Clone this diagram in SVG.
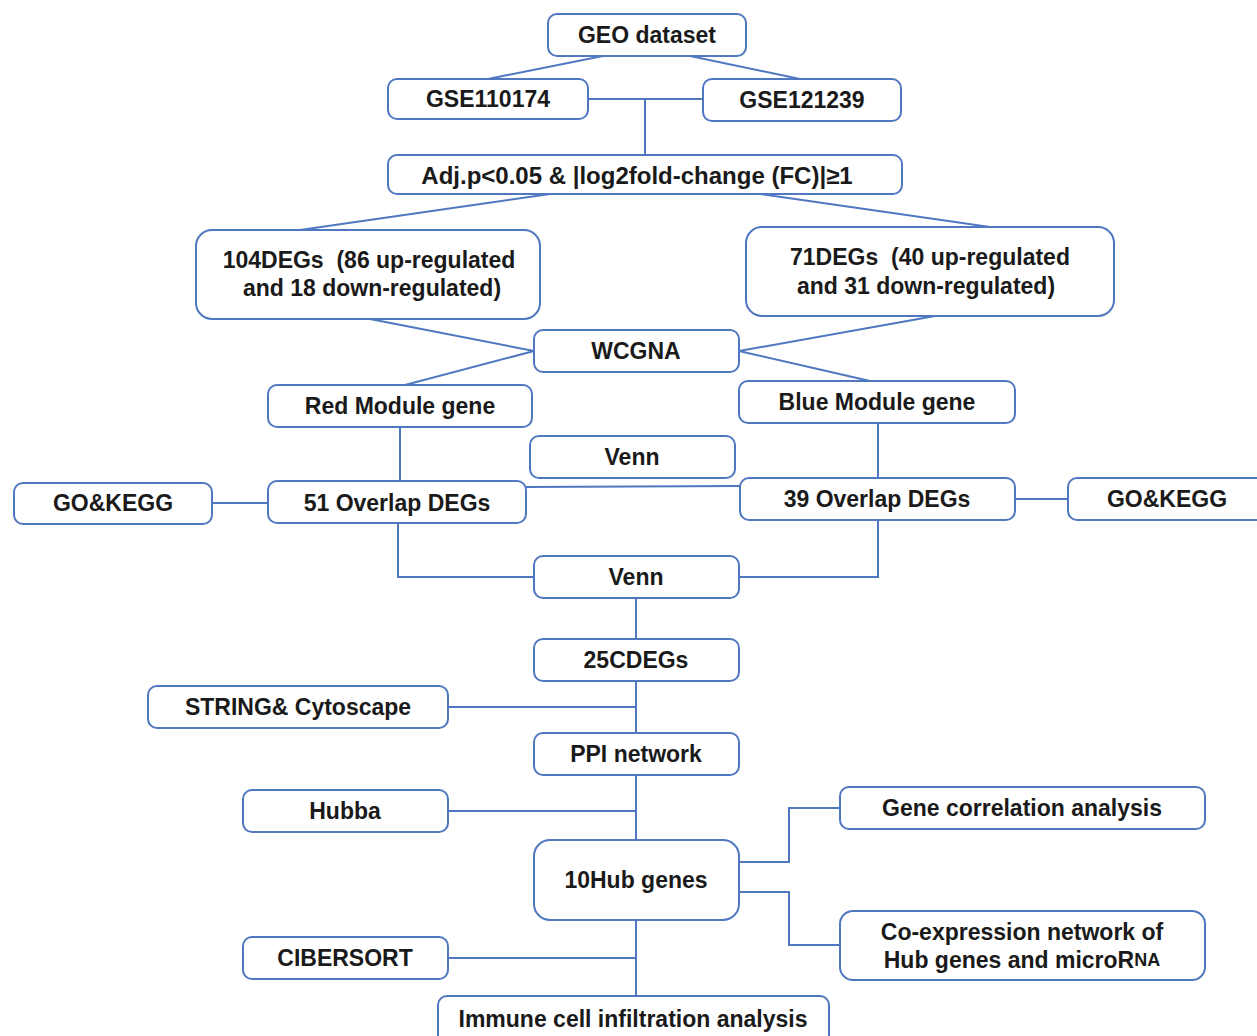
<svg xmlns="http://www.w3.org/2000/svg" width="1257" height="1036" viewBox="0 0 1257 1036">
<style>
.box{fill:#fff;stroke:#4f78c0;stroke-width:2}
.ln{fill:none;stroke:#4f78c0;stroke-width:2}
text{font-family:"Liberation Sans",Arial,sans-serif;font-weight:bold;font-size:23px;fill:#1a1a1a;text-anchor:middle;dominant-baseline:central;white-space:pre}
</style>
<rect width="1257" height="1036" fill="#fff"/>
<g id="connectors">
<line class="ln" x1="603" y1="56" x2="488" y2="79"/>
<line class="ln" x1="690" y1="56" x2="800" y2="79"/>
<line class="ln" x1="588" y1="99" x2="703" y2="99"/>
<line class="ln" x1="645" y1="99" x2="645" y2="155"/>
<line class="ln" x1="550" y1="194" x2="300" y2="230"/>
<line class="ln" x1="760" y1="194" x2="990" y2="227"/>
<line class="ln" x1="370" y1="319" x2="534" y2="351"/>
<line class="ln" x1="935" y1="316" x2="739" y2="351"/>
<line class="ln" x1="534" y1="351" x2="405" y2="385"/>
<line class="ln" x1="739" y1="351" x2="870" y2="381"/>
<line class="ln" x1="400" y1="427" x2="400" y2="481"/>
<line class="ln" x1="878" y1="423" x2="878" y2="478"/>
<line class="ln" x1="526" y1="487" x2="740" y2="486"/>
<line class="ln" x1="212" y1="503" x2="268" y2="503"/>
<line class="ln" x1="1015" y1="499" x2="1068" y2="499"/>
<polyline class="ln" points="398,523 398,577 534,577"/>
<polyline class="ln" points="878,520 878,577 739,577"/>
<line class="ln" x1="636" y1="598" x2="636" y2="639"/>
<line class="ln" x1="636" y1="681" x2="636" y2="733"/>
<line class="ln" x1="448" y1="707" x2="636" y2="707"/>
<line class="ln" x1="636" y1="775" x2="636" y2="840"/>
<line class="ln" x1="448" y1="811" x2="636" y2="811"/>
<polyline class="ln" points="739,862 789,862 789,808 840,808"/>
<polyline class="ln" points="739,892 789,892 789,945 840,945"/>
<line class="ln" x1="636" y1="920" x2="636" y2="996"/>
<line class="ln" x1="448" y1="958" x2="636" y2="958"/>
</g>
<g id="geo"><rect class="box" x="548" y="14" width="198" height="42" rx="9"/><text x="647" y="35">GEO dataset</text></g>
<g id="gse110174"><rect class="box" x="388" y="79" width="200" height="40" rx="9"/><text x="488" y="99">GSE110174</text></g>
<g id="gse121239"><rect class="box" x="703" y="79" width="198" height="42" rx="9"/><text x="802" y="100">GSE121239</text></g>
<g id="filter"><rect class="box" x="388" y="155" width="514" height="39" rx="9"/><text x="637" y="175" style="font-size:24px">Adj.p&lt;0.05 &amp; |log2fold-change (FC)|≥1</text></g>
<g id="degs104"><rect class="box" x="196" y="230" width="344" height="89" rx="16"/><text x="369" y="260">104DEGs  (86 up-regulated</text><text x="372" y="288">and 18 down-regulated)</text></g>
<g id="degs71"><rect class="box" x="746" y="227" width="368" height="89" rx="16"/><text x="930" y="257">71DEGs  (40 up-regulated</text><text x="926" y="286">and 31 down-regulated)</text></g>
<g id="wcgna"><rect class="box" x="534" y="330" width="205" height="42" rx="9"/><text x="636" y="351">WCGNA</text></g>
<g id="red"><rect class="box" x="268" y="385" width="264" height="42" rx="9"/><text x="400" y="406">Red Module gene</text></g>
<g id="blue"><rect class="box" x="739" y="381" width="276" height="42" rx="9"/><text x="877" y="402">Blue Module gene</text></g>
<g id="venn1"><rect class="box" x="530" y="436" width="205" height="42" rx="9"/><text x="632" y="457">Venn</text></g>
<g id="gokegg1"><rect class="box" x="14" y="483" width="198" height="41" rx="9"/><text x="113" y="503">GO&amp;KEGG</text></g>
<g id="overlap51"><rect class="box" x="268" y="481" width="258" height="42" rx="9"/><text x="397" y="503">51 Overlap DEGs</text></g>
<g id="overlap39"><rect class="box" x="740" y="478" width="275" height="42" rx="9"/><text x="877" y="499">39 Overlap DEGs</text></g>
<g id="gokegg2"><rect class="box" x="1068" y="478" width="198" height="42" rx="9"/><text x="1167" y="499">GO&amp;KEGG</text></g>
<g id="venn2"><rect class="box" x="534" y="556" width="205" height="42" rx="9"/><text x="636" y="577">Venn</text></g>
<g id="cdegs"><rect class="box" x="534" y="639" width="205" height="42" rx="9"/><text x="636" y="660">25CDEGs</text></g>
<g id="string"><rect class="box" x="148" y="686" width="300" height="42" rx="9"/><text x="298" y="707">STRING&amp; Cytoscape</text></g>
<g id="ppi"><rect class="box" x="534" y="733" width="205" height="42" rx="9"/><text x="636" y="754">PPI network</text></g>
<g id="hubba"><rect class="box" x="243" y="790" width="205" height="42" rx="9"/><text x="345" y="811">Hubba</text></g>
<g id="genecor"><rect class="box" x="840" y="787" width="365" height="42" rx="9"/><text x="1022" y="808">Gene correlation analysis</text></g>
<g id="hub"><rect class="box" x="534" y="840" width="205" height="80" rx="16"/><text x="636" y="880">10Hub genes</text></g>
<g id="coexp"><rect class="box" x="840" y="911" width="365" height="69" rx="13"/><text x="1022" y="932">Co-expression network of</text><text x="1022" y="960">Hub genes and microR<tspan style="font-size:18px">NA</tspan></text></g>
<g id="cibersort"><rect class="box" x="243" y="937" width="205" height="42" rx="9"/><text x="345" y="958">CIBERSORT</text></g>
<g id="immune"><rect class="box" x="438" y="996" width="391" height="50" rx="9"/><text x="633" y="1019">Immune cell infiltration analysis</text></g>
</svg>
